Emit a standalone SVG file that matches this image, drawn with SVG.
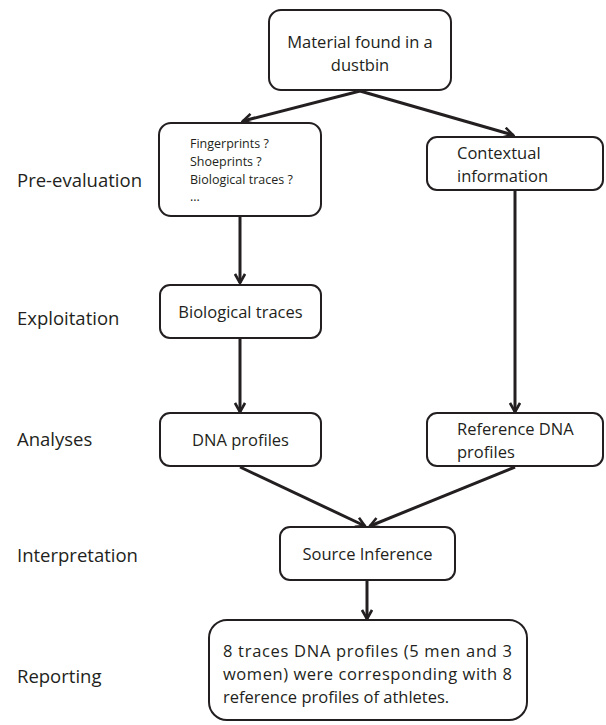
<svg xmlns="http://www.w3.org/2000/svg" width="606" height="725" viewBox="0 0 606 725">
<defs>
<marker id="ah" viewBox="0 0 12 12" refX="10" refY="6" markerWidth="12" markerHeight="12" markerUnits="userSpaceOnUse" orient="auto">
<path d="M1,1 L10,6 L1,11" fill="none" stroke="#231f20" stroke-width="2.6"/>
</marker>
</defs>
<style>
.box{fill:#fff;stroke:#231f20;stroke-width:2}
.t{font-family:"Open Sans","Liberation Sans",sans-serif;font-size:16.5px;fill:#231f20}
.s{font-family:"Open Sans","Liberation Sans",sans-serif;font-size:12.5px;fill:#231f20}
.lab{font-family:"Open Sans","Liberation Sans",sans-serif;font-size:18.5px;fill:#231f20}
.c{fill:none;stroke:#231f20;stroke-width:3;marker-end:url(#ah)}
</style>
<rect width="606" height="725" fill="#fff"/>
<g id="labels">
<text class="lab" x="17" y="187">Pre-evaluation</text>
<text class="lab" x="17" y="325">Exploitation</text>
<text class="lab" x="17" y="446">Analyses</text>
<text class="lab" x="17" y="562">Interpretation</text>
<text class="lab" x="17" y="683">Reporting</text>
</g>
<g id="connectors">
<line class="c" x1="360" y1="91" x2="243" y2="121"/>
<line class="c" x1="360" y1="91" x2="513" y2="135"/>
<line class="c" x1="240" y1="217" x2="240" y2="283"/>
<line class="c" x1="240" y1="338" x2="240" y2="412"/>
<line class="c" x1="515" y1="190" x2="515" y2="412"/>
<line class="c" x1="240" y1="467" x2="365" y2="526"/>
<line class="c" x1="515" y1="467" x2="370" y2="526"/>
<line class="c" x1="367" y1="580" x2="367" y2="619"/>
</g>
<g id="n1">
<rect class="box" x="269" y="10" width="182" height="80" rx="12"/>
<text class="t" x="360" y="48" text-anchor="middle">Material found in a</text>
<text class="t" x="360" y="71" text-anchor="middle">dustbin</text>
</g>
<g id="n2">
<rect class="box" x="159" y="123" width="162" height="93" rx="12"/>
<text class="s" x="190" y="148">Fingerprints ?</text>
<text class="s" x="190" y="166">Shoeprints ?</text>
<text class="s" x="190" y="184">Biological traces ?</text>
<text class="s" x="190" y="201">...</text>
</g>
<g id="n3">
<rect class="box" x="427" y="137" width="176" height="53" rx="10"/>
<text class="t" x="457" y="159">Contextual</text>
<text class="t" x="457" y="182">information</text>
</g>
<g id="n4">
<rect class="box" x="160" y="285" width="161" height="53" rx="10"/>
<text class="t" x="240.5" y="318" text-anchor="middle">Biological traces</text>
</g>
<g id="n5">
<rect class="box" x="160" y="413" width="161" height="53" rx="10"/>
<text class="t" x="240.5" y="446" text-anchor="middle">DNA profiles</text>
</g>
<g id="n6">
<rect class="box" x="427" y="413" width="176" height="53" rx="10"/>
<text class="t" x="457" y="435">Reference DNA</text>
<text class="t" x="457" y="458">profiles</text>
</g>
<g id="n7">
<rect class="box" x="280" y="527" width="175" height="53" rx="10"/>
<text class="t" x="367.5" y="560" text-anchor="middle">Source Inference</text>
</g>
<g id="n8">
<rect class="box" x="209" y="620" width="318" height="100" rx="18"/>
<text class="t" x="223" y="657" textLength="289" lengthAdjust="spacing">8 traces DNA profiles (5 men and 3</text>
<text class="t" x="223" y="680" textLength="289" lengthAdjust="spacing">women) were corresponding with 8</text>
<text class="t" x="223" y="703">reference profiles of athletes.</text>
</g>
</svg>
